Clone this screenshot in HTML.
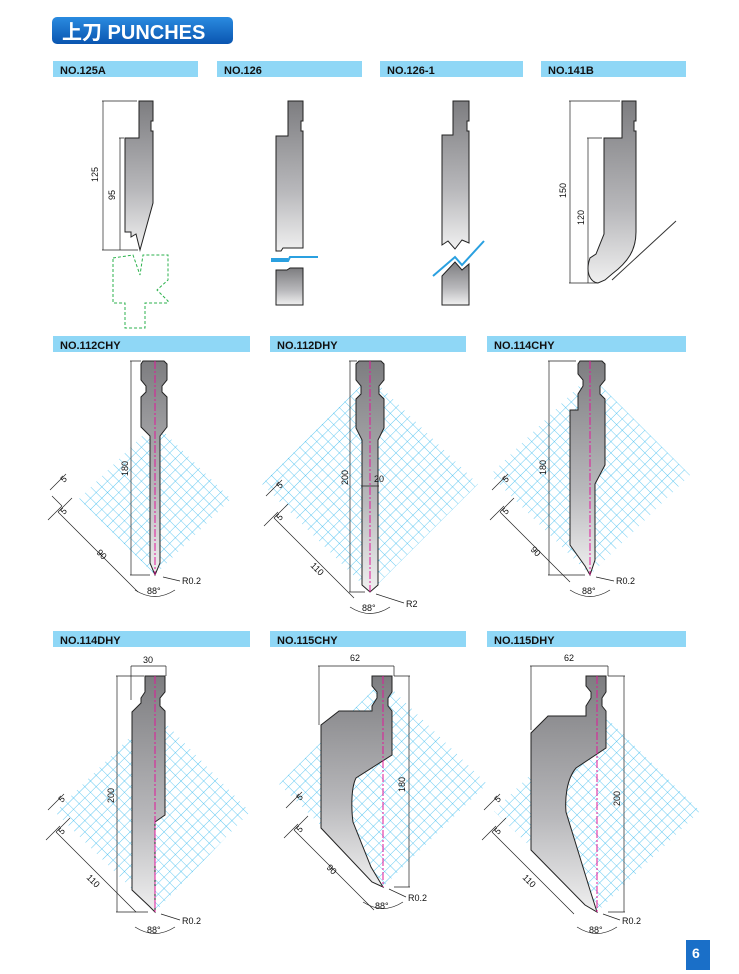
<!DOCTYPE html>
<html><head><meta charset="utf-8"><style>
html,body{margin:0;padding:0;background:#fff}
svg{display:block}
text{font-family:"Liberation Sans",Arial,sans-serif}
.lb{font-size:11px;font-weight:bold;fill:#111}
.d{font-size:9px;fill:#111}
.dl{stroke:#222;stroke-width:0.7;fill:none}
.p{fill:url(#g);stroke:#222;stroke-width:1}
.c{stroke:#e0189a;stroke-width:1;stroke-dasharray:8 2 2 2;fill:none}
</style></head><body>
<svg width="739" height="974" viewBox="0 0 739 974" xmlns="http://www.w3.org/2000/svg">
<defs>
<linearGradient id="g" x1="0" y1="0" x2="0" y2="1"><stop offset="0" stop-color="#7d7d80"/><stop offset="0.6" stop-color="#b8b8bb"/><stop offset="1" stop-color="#f0f0f0"/></linearGradient>
<linearGradient id="hb" x1="0" y1="0" x2="0" y2="1"><stop offset="0" stop-color="#2a8be0"/><stop offset="1" stop-color="#0a55b0"/></linearGradient>
<pattern id="m" width="8" height="8" patternUnits="userSpaceOnUse" patternTransform="rotate(45)"><rect width="8" height="8" fill="#fff"/><path d="M0 0H8M0 0V8" stroke="#3bbcef" stroke-width="0.8"/></pattern>
</defs>
<rect x="52" y="17" width="181" height="27" rx="5" fill="url(#hb)"/>
<text x="62" y="39" font-size="20" font-weight="bold" fill="#fff" style="font-family:'Liberation Sans','Noto Sans CJK SC',sans-serif">上刀 PUNCHES</text>
<g fill="#8fd7f6">
<rect x="53" y="61" width="145" height="16"/><rect x="217" y="61" width="145" height="16"/><rect x="380" y="61" width="143" height="16"/><rect x="541" y="61" width="145" height="16"/>
<rect x="53" y="336" width="197" height="16"/><rect x="270" y="336" width="196" height="16"/><rect x="487" y="336" width="199" height="16"/>
<rect x="53" y="631" width="197" height="16"/><rect x="270" y="631" width="196" height="16"/><rect x="487" y="631" width="199" height="16"/>
</g>
<text class="lb" x="60" y="74">NO.125A</text><text class="lb" x="224" y="74">NO.126</text><text class="lb" x="387" y="74">NO.126-1</text><text class="lb" x="548" y="74">NO.141B</text>
<text class="lb" x="60" y="349">NO.112CHY</text><text class="lb" x="277" y="349">NO.112DHY</text><text class="lb" x="494" y="349">NO.114CHY</text>
<text class="lb" x="60" y="644">NO.114DHY</text><text class="lb" x="277" y="644">NO.115CHY</text><text class="lb" x="494" y="644">NO.115DHY</text>

<path class="p" d="M139 101H153V121H151V131H153V203L140 250L136 234L131 237V232H125V138H139Z"/>
<path class="dl" d="M102 101H137M103 101V250M102 250H138M119 138H124M120 138V250"/>
<text class="d" transform="translate(98 182) rotate(-90)">125</text>
<text class="d" transform="translate(115 200) rotate(-90)">95</text>
<path d="M113 258L133 255L140 275L143 255L168 255V280L157 290L168 301V303H145V328H125V303H113Z" fill="none" stroke="#2bb24c" stroke-dasharray="3 2"/>
<path class="p" d="M288 101H303V121H301V131H303V248H283L281 251H276V136H288Z"/>
<path d="M271 261H288L290 257H318M271 259H288" stroke="#2aa0e0" stroke-width="2" fill="none"/>
<path class="p" d="M276 270H287L290 268H303V305H276Z"/>
<path class="p" d="M453 101H469V121H467V131H469V243L462 240L455 249L448 241L442 245V135H453Z"/>
<path d="M433 276L455 257L462 265L484 241" stroke="#2aa0e0" stroke-width="2" fill="none"/>
<path class="p" d="M442 276L455 262L462 270L469 264V305H442Z"/>
<path class="p" d="M622 101H636V121H634V131H636V232C636 250 628 262 612 274L605 280L598 283C590 282 585 272 590 258L596 254L604 234V138H622Z"/>
<path d="M612 280L676 221" stroke="#333" fill="none"/>
<path class="dl" d="M569 101H620M570 101V283M569 283H598M587 138H602M588 138V283"/>
<text class="d" transform="translate(566 198) rotate(-90)">150</text>
<text class="d" transform="translate(584 225) rotate(-90)">120</text>

<path d="M155 423L231 499L155 575L79 499Z" fill="url(#m)"/>
<path d="M370 376L478 484L370 592L262 484Z" fill="url(#m)"/>
<path d="M590 375L690 475L590 575L490 475Z" fill="url(#m)"/>
<path d="M155 712L250 812L155 912L55 812Z" fill="url(#m)"/>
<path d="M383 680L487 784L383 887L279 784Z" fill="url(#m)"/>
<path d="M597 708L700 811L597 912L494 811Z" fill="url(#m)"/>

<path class="p" d="M143 361H164L167 364V380L162 386V392L167 397V427L160 436V563L155 575L150 563V436L141 427V397L146 392V386L141 380V364Z"/>
<path class="c" d="M155 361V575"/>
<path class="dl" d="M130 361H141M131 361V575M130 575H150"/>
<text class="d" transform="translate(128 476) rotate(-90)">180</text>
<path class="p" d="M359 361H381L384 364V380L379 386V394L384 399V428L378 440V585L370 592L362 585V440L356 428V399L361 394V386L356 380V364Z"/>
<path class="c" d="M370 361V592"/>
<path class="dl" d="M349 361H357M350 361V592M349 592H365M361 486H379"/>
<text class="d" transform="translate(348 485) rotate(-90)">200</text>
<text class="d" x="374" y="482">20</text>
<path class="p" d="M580 361H602L605 364V380L600 386V394L605 399V465L595 484V560L590 575L585 566L570 545V410H578V394L583 386V380L578 374V364Z"/>
<path class="c" d="M590 361V575"/>
<path class="dl" d="M548 361H576M549 361V575M548 575H585"/>
<text class="d" transform="translate(546 475) rotate(-90)">180</text>
<path class="p" d="M145 676H165V692L160 698V706L165 711V815L155 822V892L155 912L149 906L132 890V712L141 703V698L145 692Z"/>
<path class="c" d="M155 676V912"/>
<path class="dl" d="M116 676H144M117 676V912M116 912H148M131 666H166M131 666V700M166 666V676"/>
<text class="d" x="143" y="663">30</text>
<text class="d" transform="translate(114 803) rotate(-90)">200</text>
<path class="p" d="M372 676H392V692L388 698V706L392 711V755L356 778C350 790 352 815 353 822L371 867L383 887L372 882L321 828V725L339 711H372V706L377 698V692L372 686Z"/>
<path class="c" d="M383 676V887"/>
<path class="dl" d="M318 666H394M319 666V725M394 666V676M394 676H410M409 676V887M394 887H410"/>
<text class="d" x="350" y="661">62</text>
<text class="d" transform="translate(405 792) rotate(-90)">180</text>
<path class="p" d="M586 676H606V692L602 698V706L606 711V748L576 768C566 780 565 800 566 812L590 890L597 912L585 905L531 850V733L548 716H586V706L591 698V692L586 686Z"/>
<path class="c" d="M597 676V912"/>
<path class="dl" d="M530 666H608M531 666V730M608 666V676M608 676H625M624 676V912M608 912H625"/>
<text class="d" x="564" y="661">62</text>
<text class="d" transform="translate(620 806) rotate(-90)">200</text>

<g class="dl">
<path d="M50 490L66 474M58 512L72 498M48 520L62 506M58 512L138 592M62 506L52 496"/>
<path d="M266 496L282 480M274 518L288 504M264 526L278 512M274 518L354 598"/>
<path d="M492 490L508 474M500 512L514 498M490 520L504 506M500 512L570 582"/>
<path d="M48 810L64 794M56 832L70 818M46 840L60 826M56 832L136 912"/>
<path d="M286 808L302 792M294 830L308 816M284 838L298 824M294 830L374 910"/>
<path d="M484 810L500 794M492 832L506 818M482 840L496 826M492 832L574 914"/>
</g>
<g class="d">
<text transform="translate(64 483) rotate(-45)">5</text><text transform="translate(64 515) rotate(-45)">5</text><text transform="translate(96 553) rotate(45)">90</text>
<text transform="translate(280 489) rotate(-45)">5</text><text transform="translate(280 521) rotate(-45)">5</text><text transform="translate(310 566) rotate(45)">110</text>
<text transform="translate(506 483) rotate(-45)">5</text><text transform="translate(506 515) rotate(-45)">5</text><text transform="translate(530 550) rotate(45)">90</text>
<text transform="translate(62 803) rotate(-45)">5</text><text transform="translate(62 835) rotate(-45)">5</text><text transform="translate(86 878) rotate(45)">110</text>
<text transform="translate(300 801) rotate(-45)">5</text><text transform="translate(300 833) rotate(-45)">5</text><text transform="translate(326 868) rotate(45)">90</text>
<text transform="translate(498 803) rotate(-45)">5</text><text transform="translate(498 835) rotate(-45)">5</text><text transform="translate(522 878) rotate(45)">110</text>
</g>
<g class="dl">
<path d="M135 590Q155 603 175 590M163 577L180 581"/>
<path d="M350 607Q370 620 390 607M376 594L404 603"/>
<path d="M570 590Q590 603 610 590M596 577L614 581"/>
<path d="M135 927Q155 940 175 927M161 914L180 920"/>
<path d="M363 902Q383 915 403 902M389 889L406 897"/>
<path d="M577 927Q597 940 617 927M603 914L620 920"/>
</g>
<g class="d">
<text x="147" y="594">88°</text><text x="182" y="584">R0.2</text>
<text x="362" y="611">88°</text><text x="406" y="607">R2</text>
<text x="582" y="594">88°</text><text x="616" y="584">R0.2</text>
<text x="147" y="933">88°</text><text x="182" y="924">R0.2</text>
<text x="375" y="909">88°</text><text x="408" y="901">R0.2</text>
<text x="589" y="933">88°</text><text x="622" y="924">R0.2</text>
</g>
<rect x="686" y="940" width="24" height="30" fill="#1a6fc8"/>
<text x="692" y="958" font-size="14" font-weight="bold" fill="#fff">6</text>
</svg>
</body></html>
